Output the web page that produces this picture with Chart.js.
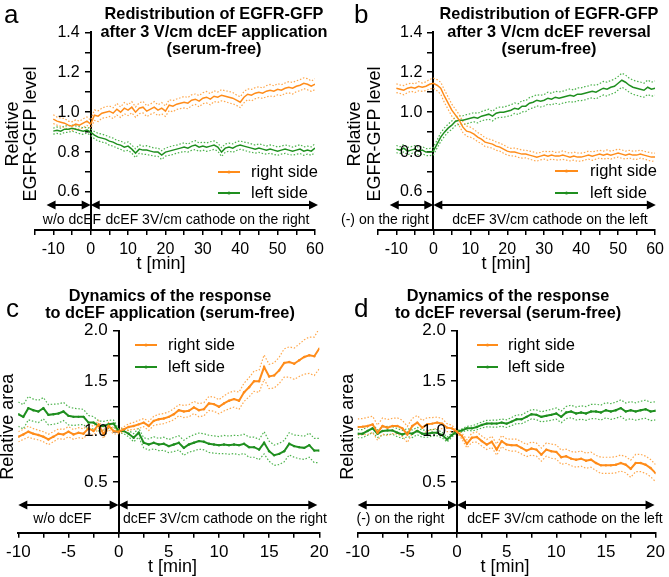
<!DOCTYPE html>
<html>
<head>
<meta charset="utf-8">
<script src="https://cdn.jsdelivr.net/npm/chart.js@4/dist/chart.umd.min.js"></script>
<style>
body { margin: 0; background: #fff; width: 669px; height: 577px; position: relative; overflow: hidden; }
canvas { position: absolute; }
</style>
</head>
<body>
<canvas id="chartA" width="335" height="288" style="left:0;top:0"></canvas>
<canvas id="chartB" width="334" height="288" style="left:335px;top:0"></canvas>
<canvas id="chartC" width="335" height="289" style="left:0;top:288px"></canvas>
<canvas id="chartD" width="334" height="289" style="left:335px;top:288px"></canvas>
<script>
// ---- data ----
// panels a, b : one value per minute, t = -10 ... 60
var orangeA = [.965,.955,.95,.945,.935,.93,.94,.935,.945,.955,
  .94,.985,.98,.995,1.0,1.005,.995,1.015,1.0,1.02,
  1.01,1.025,1.0,1.02,1.025,1.005,1.015,1.025,1.01,1.02,
  1.005,1.035,1.03,1.04,1.045,1.05,1.045,1.06,1.065,1.055,
  1.07,1.075,1.065,1.08,1.075,1.085,1.08,1.075,1.07,1.06,
  1.05,1.075,1.09,1.085,1.095,1.1,1.095,1.105,1.11,1.105,
  1.115,1.11,1.12,1.125,1.12,1.13,1.135,1.145,1.14,1.13,
  1.14];
var greenA = [.905,.91,.905,.915,.915,.92,.915,.91,.905,.91,
  .9,.885,.875,.87,.865,.855,.85,.84,.835,.825,
  .83,.815,.795,.815,.81,.81,.805,.8,.8,.785,
  .8,.805,.81,.815,.82,.825,.82,.83,.835,.825,
  .83,.825,.83,.835,.825,.8,.82,.825,.82,.83,
  .835,.83,.825,.82,.815,.82,.815,.81,.815,.81,
  .805,.81,.815,.81,.805,.81,.815,.805,.81,.805,
  .82];
var sdOrangeA = [.022,.02,.021,.023,.02,.022,.021,.02,.022,.021,
  .02,.026,.027,.025,.028,.026,.027,.029,.026,.028,
  .027,.028,.026,.027,.029,.027,.026,.028,.027,.028,
  .026,.027,.028,.026,.027,.029,.028,.027,.026,.028,
  .027,.029,.028,.027,.026,.028,.027,.029,.028,.026,
  .027,.028,.027,.029,.028,.027,.026,.028,.029,.027,
  .028,.027,.026,.028,.029,.027,.028,.027,.028,.026,
  .027];
var sdGreenA = [.015,.016,.015,.017,.016,.015,.016,.017,.016,.015,
  .016,.018,.019,.02,.019,.021,.02,.019,.021,.02,
  .021,.02,.022,.021,.02,.022,.021,.02,.021,.022,
  .02,.021,.022,.02,.021,.022,.02,.021,.022,.021,
  .02,.021,.022,.021,.02,.022,.021,.02,.021,.022,
  .021,.02,.022,.021,.02,.021,.022,.02,.021,.022,
  .021,.02,.021,.022,.02,.021,.022,.021,.02,.021,
  .022];
var orangeB = [1.12,1.115,1.11,1.12,1.125,1.12,1.13,1.125,1.13,1.14,
  1.145,1.135,1.12,1.08,1.045,1.01,.985,.96,.925,.905,
  .9,.89,.875,.865,.85,.845,.84,.83,.825,.815,
  .805,.8,.8,.795,.79,.79,.785,.78,.775,.78,
  .785,.78,.785,.78,.78,.785,.78,.775,.78,.775,
  .775,.78,.785,.78,.785,.79,.785,.79,.785,.79,
  .795,.79,.785,.79,.785,.785,.79,.785,.78,.775,
  .775];
var greenB = [.815,.81,.82,.805,.81,.815,.805,.81,.8,.8,
  .805,.84,.875,.9,.92,.935,.955,.96,.96,.965,
  .97,.975,.97,.98,.985,.99,.98,.995,1.0,1.0,
  1.005,1.01,1.02,1.015,1.03,1.03,1.045,1.05,1.06,1.055,
  1.06,1.07,1.065,1.075,1.07,1.075,1.08,1.085,1.08,1.09,
  1.09,1.095,1.1,1.105,1.1,1.11,1.12,1.115,1.125,1.13,
  1.145,1.16,1.15,1.135,1.125,1.12,1.115,1.11,1.125,1.115,
  1.12];
var sdOrangeB = [.022,.021,.023,.022,.02,.022,.023,.021,.022,.024,
  .025,.028,.03,.032,.031,.03,.029,.028,.027,.026,
  .025,.024,.023,.022,.022,.021,.02,.021,.02,.021,
  .02,.019,.02,.021,.02,.019,.02,.021,.02,.019,
  .02,.021,.02,.019,.02,.021,.02,.019,.02,.021,
  .02,.019,.02,.021,.02,.019,.02,.021,.02,.019,
  .02,.021,.02,.019,.02,.021,.02,.019,.02,.021,
  .02];
var sdGreenB = [.018,.017,.019,.018,.017,.018,.019,.018,.017,.018,
  .019,.02,.022,.021,.02,.021,.022,.021,.022,.023,
  .022,.023,.024,.023,.024,.025,.024,.025,.026,.025,
  .026,.027,.026,.027,.028,.027,.028,.029,.028,.029,
  .029,.03,.029,.03,.031,.03,.031,.032,.031,.032,
  .032,.033,.032,.033,.034,.033,.034,.035,.034,.035,
  .034,.035,.036,.035,.036,.035,.036,.035,.036,.035,
  .036];

// panels c, d : one value every 0.5 min, t = -10 ... 20
var orangeC = [.95,.973,1.0,.98,.967,.95,.923,.95,.98,.973,
  1.0,.973,.99,.98,1.033,1.007,1.073,.973,1.057,1.007,
  1.0,1.023,1.047,1.057,1.073,1.09,1.057,1.107,1.123,1.13,
  1.147,1.173,1.213,1.2,1.207,1.24,1.213,1.223,1.28,1.273,
  1.247,1.28,1.307,1.323,1.307,1.39,1.44,1.5,1.5,1.64,
  1.547,1.557,1.607,1.68,1.69,1.673,1.707,1.74,1.757,1.747,
  1.823];
var greenC = [1.173,1.147,1.233,1.213,1.2,1.233,1.167,1.173,1.18,1.2,
  1.157,1.147,1.147,1.147,1.09,1.09,1.057,1.057,1.073,1.08,
  1.007,1.007,.98,.94,.99,.89,.873,.89,.873,.88,
  .857,.873,.89,.84,.873,.89,.907,.9,.88,.873,
  .867,.873,.867,.873,.867,.88,.847,.847,.823,.89,
  .807,.767,.78,.807,.88,.857,.847,.84,.867,.813,
  .813];
var sdOrangeC = [.05,.05,.055,.05,.048,.05,.052,.05,.048,.05,
  .05,.048,.05,.047,.045,.045,.04,.04,.035,.03,
  .02,.025,.03,.035,.04,.04,.045,.045,.05,.05,
  .05,.055,.055,.06,.06,.06,.065,.065,.07,.07,
  .07,.075,.08,.08,.085,.09,.095,.1,.11,.12,
  .12,.125,.13,.14,.15,.155,.16,.17,.18,.19,
  .2];
var sdGreenC = [.12,.12,.115,.11,.11,.105,.1,.1,.095,.09,
  .09,.085,.08,.075,.07,.06,.05,.045,.04,.035,
  .02,.025,.03,.04,.045,.05,.055,.06,.06,.065,
  .065,.07,.07,.075,.075,.08,.08,.08,.085,.085,
  .085,.09,.09,.09,.095,.095,.1,.1,.1,.11,
  .1,.1,.105,.105,.11,.11,.115,.115,.12,.12,
  .12];
var orangeD = [1.047,1.05,1.057,1.073,.99,1.057,1.04,1.057,1.057,1.033,
  .973,1.057,1.09,1.04,1.073,1.08,1.09,1.08,1.04,1.033,
  1.0,.957,.88,.94,.947,.907,.873,.9,.823,.907,
  .873,.867,.867,.84,.813,.833,.823,.773,.823,.807,
  .8,.747,.757,.733,.723,.733,.713,.723,.69,.667,
  .667,.667,.673,.69,.673,.633,.69,.69,.673,.64,
  .59];
var greenD = [.98,.98,1.007,1.033,.98,1.007,1.013,1.013,.99,.973,
  .99,.98,1.007,.98,.98,.99,.99,.967,.923,.967,
  1.0,1.013,1.033,1.033,1.047,1.067,1.08,1.08,1.08,1.09,
  1.08,1.1,1.123,1.123,1.147,1.173,1.167,1.147,1.157,1.167,
  1.18,1.147,1.19,1.2,1.18,1.19,1.18,1.2,1.2,1.19,
  1.213,1.2,1.213,1.233,1.2,1.213,1.2,1.213,1.223,1.2,
  1.207];
var sdOrangeD = [.08,.08,.085,.08,.075,.08,.08,.075,.08,.08,
  .08,.075,.07,.07,.065,.06,.055,.05,.04,.03,
  .01,.03,.04,.045,.05,.05,.05,.055,.055,.055,
  .055,.06,.06,.06,.06,.065,.065,.065,.065,.07,
  .07,.07,.07,.07,.075,.075,.075,.075,.075,.08,
  .08,.08,.08,.08,.08,.085,.085,.085,.085,.085,
  .085];
var sdGreenD = [.04,.04,.042,.04,.038,.04,.04,.038,.04,.04,
  .04,.038,.036,.035,.035,.033,.03,.028,.025,.02,
  .01,.015,.02,.025,.028,.03,.032,.034,.035,.036,
  .038,.04,.042,.044,.045,.046,.048,.05,.052,.054,
  .055,.058,.06,.062,.064,.066,.068,.07,.072,.074,
  .075,.078,.08,.082,.084,.085,.086,.088,.09,.09,
  .09];

// ticks / labels
var xTicksAB = [-15,-10,-5,0,5,10,15,20,25,30,35,40,45,50,55,60];
var xLabelsAB = [-10,0,10,20,30,40,50,60];
var yTicksAB = [0.6,0.7,0.8,0.9,1.0,1.1,1.2,1.3,1.4];
var yLabelsAB = [0.6,0.8,1.0,1.2,1.4];
var xTicksCD = [-10,-7.5,-5,-2.5,0,2.5,5,7.5,10,12.5,15,17.5,20];
var xLabelsCD = [-10,-5,0,5,10,15,20];
var yTicksCD = [0.5,0.75,1.0,1.25,1.5,1.75,2.0];
var yLabelsCD = [0.5,1.0,1.5,2.0];
var seriesNames = ['right side', 'left side'];

var timeAB = [];
for (var m = -10; m <= 60; m++) timeAB.push(m);
var timeCD = [];
for (var h = -20; h <= 40; h++) timeCD.push(h / 2);

var ORANGE = '#ff8c1a', ORANGE_LT = '#ffa84d';
var GREEN = '#1f8f1f', GREEN_LT = '#4db34d';
var FONT = '"Liberation Sans", Arial, sans-serif';

function xy(t, arr) {
  return arr.map(function (v, i) { return { x: t[i], y: v }; });
}

function seriesSets(t, mean, sd, color, light, lw, pr) {
  var band = { borderColor: light, borderWidth: 1.2, borderDash: [1.5, 1.8], pointRadius: 0, order: 1 };
  return [
    { data: xy(t, mean), borderColor: color, backgroundColor: color, borderWidth: lw, pointRadius: pr, pointBorderWidth: 0, order: 0 },
    Object.assign({ data: xy(t, mean.map(function (v, i) { return v + sd[i]; })) }, band),
    Object.assign({ data: xy(t, mean.map(function (v, i) { return v - sd[i]; })) }, band)
  ];
}

function head(ctx, x, y, dir) {
  ctx.beginPath();
  ctx.moveTo(x, y);
  ctx.lineTo(x - dir * 9, y - 4.5);
  ctx.lineTo(x - dir * 9, y + 4.5);
  ctx.closePath();
  ctx.fill();
}

function twoWay(ctx, x1, x2, y) {
  ctx.beginPath();
  ctx.moveTo(x1 + 5, y);
  ctx.lineTo(x2 - 5, y);
  ctx.stroke();
  head(ctx, x1, y, -1);
  head(ctx, x2, y, 1);
}

var decor = {
  id: 'decor',
  afterDraw: function (chart, args, o) {
    var ctx = chart.ctx, xs = chart.scales.x, ys = chart.scales.y;
    var axisX = xs.getPixelForValue(0);
    ctx.save();
    ctx.fillStyle = '#000';
    ctx.strokeStyle = '#000';
    // y tick labels, left of the axis at x = 0
    ctx.font = o.tickSize + 'px ' + FONT;
    ctx.textAlign = 'right';
    ctx.textBaseline = 'middle';
    o.yLabels.forEach(function (v) { ctx.fillText(v.toFixed(1), axisX - 11, ys.getPixelForValue(v)); });
    // panel letter
    ctx.font = '26px ' + FONT;
    ctx.textAlign = 'left';
    ctx.textBaseline = 'alphabetic';
    ctx.fillText(o.letter, o.letterPos[0], o.letterPos[1]);
    // title
    ctx.font = 'bold 16.3px ' + FONT;
    ctx.textAlign = 'center';
    ctx.textBaseline = 'middle';
    o.title.forEach(function (s, i) { ctx.fillText(s, o.titlePos[0], o.titlePos[1] + i * 17.5); });
    // y title
    ctx.font = '18px ' + FONT;
    o.yTitle.forEach(function (s, i) {
      ctx.save();
      ctx.translate(o.yTitleX[i], o.yTitleY);
      ctx.rotate(-Math.PI / 2);
      ctx.fillText(s, 0, 0);
      ctx.restore();
    });
    // x title
    ctx.fillText('t [min]', o.xTitlePos[0], o.xTitlePos[1]);
    // arrows + phase text
    ctx.lineWidth = 2;
    twoWay(ctx, xs.getPixelForValue(o.arrowL[0]), xs.getPixelForValue(o.arrowL[1]), o.arrowY);
    twoWay(ctx, xs.getPixelForValue(o.arrowR[0]), xs.getPixelForValue(o.arrowR[1]), o.arrowY);
    ctx.font = '14px ' + FONT;
    ctx.fillText(o.phase[0], o.phaseX[0], o.phaseY);
    ctx.fillText(o.phase[1], o.phaseX[1], o.phaseY);
    // legend
    ctx.font = '16.5px ' + FONT;
    ctx.textAlign = 'left';
    [ORANGE, GREEN].forEach(function (c, i) {
      var y = o.legendY[i];
      ctx.strokeStyle = c;
      ctx.fillStyle = c;
      ctx.lineWidth = 2;
      ctx.beginPath();
      ctx.moveTo(o.legendX[0], y);
      ctx.lineTo(o.legendX[1], y);
      ctx.stroke();
      ctx.beginPath();
      ctx.arc((o.legendX[0] + o.legendX[1]) / 2, y, 1.6, 0, Math.PI * 2);
      ctx.fill();
      ctx.fillStyle = '#000';
      ctx.fillText(seriesNames[i], o.legendX[2], y);
    });
    ctx.restore();
  }
};

function axisStyle() {
  return {
    grid: { drawOnChartArea: false, drawTicks: true, tickLength: 5, color: '#000', lineWidth: 1.5 },
    border: { display: true, color: '#000', width: 2 }
  };
}

function makePanel(id, p) {
  var xAxis = Object.assign({
    type: 'linear', position: 'bottom', min: p.xMin, max: p.xMax,
    afterFit: function (s) { s.height = p.xH; },
    afterBuildTicks: function (s) { s.ticks = p.xTicks.map(function (v) { return { value: v }; }); },
    ticks: {
      autoSkip: false, maxRotation: 0, padding: p.xPad, color: '#000', font: { family: FONT, size: p.tickSize },
      callback: function (v) { return p.xLabels.indexOf(v) >= 0 ? String(v) : ''; }
    }
  }, axisStyle());
  var yAxis = Object.assign({
    type: 'linear', position: { x: 0 }, min: p.yMin, max: p.yMax,
    afterBuildTicks: function (s) { s.ticks = p.yTicks.map(function (v) { return { value: v }; }); },
    ticks: { display: false }
  }, axisStyle());
  p.decor.yLabels = p.yLabels;
  p.decor.tickSize = p.tickSize;

  new Chart(document.getElementById(id), {
    type: 'line',
    data: { datasets: p.datasets },
    options: {
      responsive: false,
      animation: false,
      events: [],
      layout: { padding: p.pad },
      plugins: { legend: { display: false }, tooltip: { enabled: false }, decor: p.decor },
      scales: { x: xAxis, y: yAxis }
    },
    plugins: [decor]
  });
}

makePanel('chartA', {
  xMin: -15, xMax: 60, yMin: 0.41, yMax: 1.4, xH: 58, xPad: 5, tickSize: 16,
  xTicks: xTicksAB, xLabels: xLabelsAB, yTicks: yTicksAB, yLabels: yLabelsAB,
  pad: { left: 34.6, right: 20, top: 32.3, bottom: 0 },
  datasets: seriesSets(timeAB, orangeA, sdOrangeA, ORANGE, ORANGE_LT, 1.5, 0)
    .concat(seriesSets(timeAB, greenA, sdGreenA, GREEN, GREEN_LT, 1.5, 0)),
  decor: {
    letter: 'a', letterPos: [4, 23],
    title: ['Redistribution of EGFR-GFP', 'after 3 V/cm dcEF application', '(serum-free)'], titlePos: [214, 15],
    yTitle: ['Relative', 'EGFR-GFP level'], yTitleX: [13.5, 31.5], yTitleY: 134,
    xTitlePos: [161, 264],
    arrowL: [-11.8, 0], arrowR: [0, 60.8], arrowY: 205,
    phase: ['w/o dcEF', 'dcEF 3V/cm cathode on the right'], phaseX: [72, 207.5], phaseY: 220,
    legendX: [218, 240, 251], legendY: [172, 193]
  }
});

makePanel('chartB', {
  xMin: -15, xMax: 60, yMin: 0.41, yMax: 1.4, xH: 58, xPad: 5, tickSize: 16,
  xTicks: xTicksAB, xLabels: xLabelsAB, yTicks: yTicksAB, yLabels: yLabelsAB,
  pad: { left: 42.9, right: 9, top: 32.3, bottom: 0 },
  datasets: seriesSets(timeAB, orangeB, sdOrangeB, ORANGE, ORANGE_LT, 1.5, 0)
    .concat(seriesSets(timeAB, greenB, sdGreenB, GREEN, GREEN_LT, 1.5, 0)),
  decor: {
    letter: 'b', letterPos: [19, 23],
    title: ['Redistribution of EGFR-GFP', 'after 3 V/cm dcEF reversal', '(serum-free)'], titlePos: [214, 15],
    yTitle: ['Relative', 'EGFR-GFP level'], yTitleX: [20, 40], yTitleY: 134,
    xTitlePos: [171, 264],
    arrowL: [-11.8, 0], arrowR: [0, 60.2], arrowY: 205,
    phase: ['(-) on the right', 'dcEF 3V/cm cathode on the left'], phaseX: [50, 215], phaseY: 220,
    legendX: [220, 243, 255], legendY: [171, 193]
  }
});

makePanel('chartC', {
  xMin: -10, xMax: 20, yMin: 0, yMax: 2.0, xH: 44.3, xPad: 4, tickSize: 17,
  xTicks: xTicksCD, xLabels: xLabelsCD, yTicks: yTicksCD, yLabels: yLabelsCD,
  pad: { left: 18.3, right: 15.7, top: 42.7, bottom: 0 },
  datasets: seriesSets(timeCD, orangeC, sdOrangeC, ORANGE, ORANGE_LT, 2, 1.2)
    .concat(seriesSets(timeCD, greenC, sdGreenC, GREEN, GREEN_LT, 2, 1.2)),
  decor: {
    letter: 'c', letterPos: [6, 28.7],
    title: ['Dynamics of the response', 'to dcEF application (serum-free)'], titlePos: [170, 8.5],
    yTitle: ['Relative area'], yTitleX: [8.5], yTitleY: 138.7,
    xTitlePos: [172.5, 278.7],
    arrowL: [-10, 0], arrowR: [0, 19.8], arrowY: 217,
    phase: ['w/o dcEF', 'dcEF 3V/cm cathode on the right'], phaseX: [62.5, 225], phaseY: 231.3,
    legendX: [135, 157, 168], legendY: [57, 79]
  }
});

makePanel('chartD', {
  xMin: -10, xMax: 20, yMin: 0, yMax: 2.0, xH: 44.3, xPad: 4, tickSize: 17,
  xTicks: xTicksCD, xLabels: xLabelsCD, yTicks: yTicksCD, yLabels: yLabelsCD,
  pad: { left: 22.7, right: 11.3, top: 42.7, bottom: 0 },
  datasets: seriesSets(timeCD, orangeD, sdOrangeD, ORANGE, ORANGE_LT, 2, 1.2)
    .concat(seriesSets(timeCD, greenD, sdGreenD, GREEN, GREEN_LT, 2, 1.2)),
  decor: {
    letter: 'd', letterPos: [19, 28.7],
    title: ['Dynamics of the response', 'to dcEF reversal (serum-free)'], titlePos: [173, 8.5],
    yTitle: ['Relative area'], yTitleX: [13.3], yTitleY: 138.7,
    xTitlePos: [170, 278.7],
    arrowL: [-10, 0], arrowR: [0, 19.9], arrowY: 217,
    phase: ['(-) on the right', 'dcEF 3V/cm cathode on the left'], phaseX: [65.5, 230], phaseY: 231.3,
    legendX: [142, 163, 173], legendY: [57, 79]
  }
});
</script>
</body>
</html>
